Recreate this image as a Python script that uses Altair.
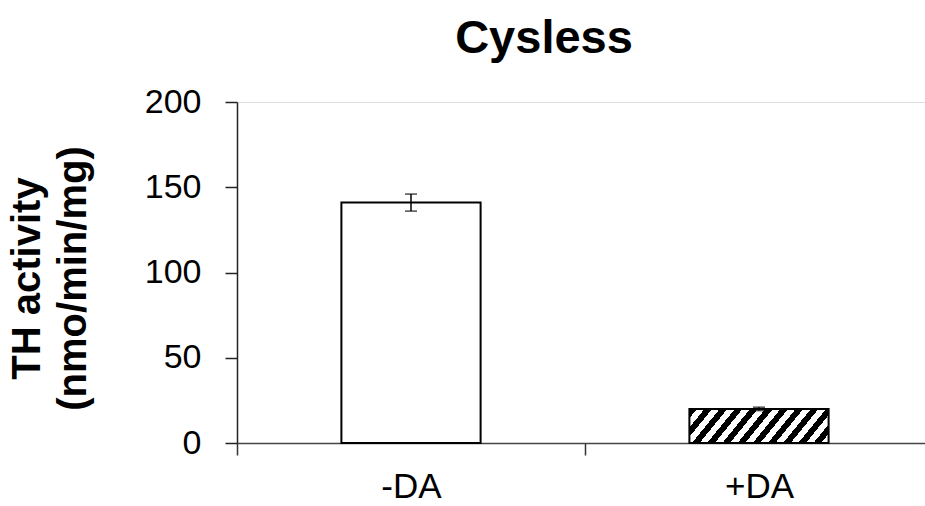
import altair as alt
import pandas as pd

# ---- data ----
categories = ["-DA", "+DA"]
activity = [141, 20]          # TH activity (nmo/min/mg)
error = [5, 1]                # error bar half-lengths
y_ticks = [0, 50, 100, 150, 200]

df = pd.DataFrame({"cond": categories, "value": activity, "err": error})
df["pos"] = df.index + 0.5          # category centre on a continuous axis
df["lo"] = df["value"] - df["err"]
df["hi"] = df["value"] + df["err"]

FONT = "Liberation Sans"
HALF = 0.2                           # half bar width (category units)
X_MAX = 688 / 348                    # visible part of the 2-category axis

# diagonal hatching as a striped linear gradient
n_stripes = 11
stops = []
for i in range(n_stripes):
    a = i / n_stripes
    m = (i + 0.5) / n_stripes
    b = (i + 1) / n_stripes
    stops += [alt.GradientStop(offset=a, color="black"),
              alt.GradientStop(offset=m, color="black"),
              alt.GradientStop(offset=m, color="white"),
              alt.GradientStop(offset=b, color="white")]
hatch = alt.LinearGradient(gradient="linear", stops=stops,
                           x1=0, y1=0, x2=1.154, y2=0.231)

label_expr = " : ".join(
    [f"datum.value == {i + 0.5} ? '{c}'" for i, c in enumerate(categories)]
) + " : ''"

x_axis = alt.Axis(
    values=[0, 0.5, 1, 1.5], labelExpr=label_expr, title=None,
    tickOpacity={"condition": {"test": "datum.value % 1 != 0", "value": 0}, "value": 1},
    tickSize=12, tickWidth=1.5, tickColor="#333",
    domainColor="#444", domainWidth=1.5,
    labelFontSize=35, labelFont=FONT, labelColor="black", labelPadding=14,
    labelAngle=0, grid=False,
)
y_axis = alt.Axis(
    values=y_ticks, title=["TH activity", "(nmo/min/mg)"],
    titleFont=FONT, titleFontSize=40, titleFontWeight="bold", titleColor="black",
    titleLineHeight=46, titleAngle=-90, titleAlign="center", titleBaseline="top",
    titleX=-230, titleY=176,
    tickSize=12, tickWidth=1.5, tickColor="#222",
    domainColor="#222", domainWidth=1.5,
    labelFontSize=34, labelFont=FONT, labelColor="black", labelPadding=24,
    grid=False,
)

x_scale = alt.Scale(domain=[0, X_MAX], nice=False, zero=False)
y_scale = alt.Scale(domain=[0, 200], nice=False)

base = alt.Chart(df).transform_calculate(
    x0=f"datum.pos - {HALF}", x1=f"datum.pos + {HALF}", zero="0"
)

bar_plain = base.transform_filter(f"datum.cond == '{categories[0]}'").mark_rect(
    fill="white", stroke="black", strokeWidth=2
).encode(
    x=alt.X("x0:Q", scale=x_scale, axis=x_axis),
    x2="x1:Q",
    y=alt.Y("value:Q", scale=y_scale, axis=y_axis),
    y2="zero:Q",
)

bar_hatch = base.transform_filter(f"datum.cond == '{categories[1]}'").mark_rect(
    fill=hatch, stroke="black", strokeWidth=2
).encode(
    x=alt.X("x0:Q", scale=x_scale, axis=x_axis),
    x2="x1:Q",
    y=alt.Y("value:Q", scale=y_scale, axis=y_axis),
    y2="zero:Q",
)

err_rule = base.mark_rule(color="black", strokeWidth=1.5).encode(
    x=alt.X("pos:Q", scale=x_scale, axis=x_axis),
    y=alt.Y("lo:Q", scale=y_scale, axis=y_axis),
    y2="hi:Q",
)

caps = base.transform_fold(["lo", "hi"], as_=["end", "yv"]).mark_tick(
    color="black", size=12, thickness=1.5, orient="horizontal"
).encode(
    x=alt.X("pos:Q", scale=x_scale, axis=x_axis),
    y=alt.Y("yv:Q", scale=y_scale, axis=y_axis),
)

chart = alt.layer(bar_plain, bar_hatch, err_rule, caps).properties(
    width=688, height=341,
    title=alt.TitleParams("Cysless", font=FONT, fontSize=47, fontWeight="bold",
                          color="black", anchor="middle", dx=-37, offset=22),
    autosize=alt.AutoSizeParams(type="none"),
    padding={"left": 237, "top": 102, "right": 0, "bottom": 63},
).configure_view(stroke=None).configure(background="white")

chart.save("out.html", embed_options={"renderer": "svg", "actions": False})
